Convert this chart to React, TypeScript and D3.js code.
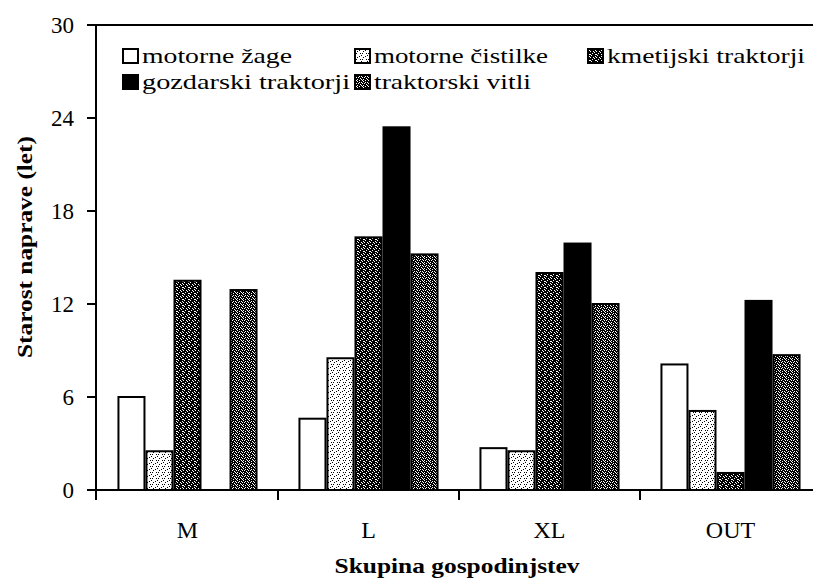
import React from "react";
import * as d3 from "d3";

const categories = ["M", "L", "XL", "OUT"];
const seriesNames = [
  "motorne žage",
  "motorne čistilke",
  "kmetijski traktorji",
  "gozdarski traktorji",
  "traktorski vitli",
];
const motorneZage = [6.0, 4.6, 2.7, 8.1];
const motorneCistilke = [2.5, 8.5, 2.5, 5.1];
const kmetijskiTraktorji = [13.5, 16.3, 14.0, 1.1];
const gozdarskiTraktorji = [null, 23.4, 15.9, 12.2];
const traktorskiVitli = [12.9, 15.2, 12.0, 8.7];
const yTicks = [0, 6, 12, 18, 24, 30];

const seriesValues: (number | null)[][] = [
  motorneZage,
  motorneCistilke,
  kmetijskiTraktorji,
  gozdarskiTraktorji,
  traktorskiVitli,
];
const fills = ["#ffffff", "url(#pLight)", "url(#pDark)", "#000000", "url(#pMid)"];

const W = 813;
const H = 588;
const left = 97;
const top = 25;
const bottom = 490;
const FONT = "Liberation Serif, Times New Roman, serif";

// deterministic texture tiles ('1' = black pixel)
const tileLight = ["100000", "000010", "001000", "000000", "010001", "000000"];
const tileDark = ["111011", "101111", "110110", "011111", "111101", "100111"];
const tileMid = ["110111", "011101", "101011", "111110", "010111", "101101"];

function Tile({ id, rows, bg }: { id: string; rows: string[]; bg: string }) {
  const n = rows[0].length;
  const cells: JSX.Element[] = [];
  rows.forEach((r, yi) =>
    r.split("").forEach((c, xi) => {
      if (c === "1") cells.push(<rect key={`${xi}-${yi}`} x={xi} y={yi} width={1} height={1} fill="#000" />);
    })
  );
  return (
    <pattern id={id} width={n} height={rows.length} patternUnits="userSpaceOnUse">
      <rect width={n} height={rows.length} fill={bg} />
      {cells}
    </pattern>
  );
}

export default function App() {
  const x0 = d3.scaleBand<string>().domain(categories).range([left, left + 181 * 4]).padding(0);
  const x1 = d3
    .scaleBand<number>()
    .domain(d3.range(seriesNames.length))
    .range([0, x0.bandwidth()])
    .paddingInner(0)
    .paddingOuter(0.73);
  const y = d3.scaleLinear().domain([0, 30]).range([bottom, top]);

  const legendLayout = [
    { x: 123, y: 49, w: 150 },
    { x: 355, y: 49, w: 174 },
    { x: 588, y: 49, w: 198 },
    { x: 123, y: 75, w: 208 },
    { x: 355, y: 75, w: 157 },
  ];
  const txt = { fontFamily: FONT, fill: "#000" } as React.CSSProperties;

  return (
    <svg width={W} height={H} style={{ position: "absolute", left: 0, top: 0, background: "#fff" }}>
      <defs>
        <Tile id="pLight" rows={tileLight} bg="#ffffff" />
        <Tile id="pDark" rows={tileDark} bg="#ffffff" />
        <Tile id="pMid" rows={tileMid} bg="#ffffff" />
      </defs>
      <rect width={W} height={H} fill="#fff" />

      {/* bars */}
      {categories.map((c, ci) => (
        <g key={c} transform={`translate(${x0(c)},0)`}>
          {seriesValues.map((vals, si) => {
            const v = vals[ci];
            if (v == null) return null;
            return (
              <rect
                key={si}
                x={x1(si)! + 1}
                y={y(v)}
                width={x1.bandwidth() - 2}
                height={bottom - y(v)}
                fill={fills[si]}
                stroke="#000"
                strokeWidth={2}
              />
            );
          })}
        </g>
      ))}

      {/* frame / axes */}
      <line x1={87} x2={W} y1={top} y2={top} stroke="#000" strokeWidth={2} />
      <line x1={left - 1} x2={left - 1} y1={top} y2={500} stroke="#000" strokeWidth={2} />
      <line x1={87} x2={W} y1={bottom} y2={bottom} stroke="#000" strokeWidth={2} />
      {yTicks.map((t) => (
        <g key={t}>
          <line x1={87} x2={left - 1} y1={y(t)} y2={y(t)} stroke="#000" strokeWidth={2} />
          <text x={74} y={y(t)} dy="0.35em" textAnchor="end" fontSize={23} style={txt}>
            {t}
          </text>
        </g>
      ))}
      {categories.map((c, ci) =>
        ci === 0 ? null : (
          <line key={c} x1={x0(c)!} x2={x0(c)!} y1={bottom} y2={500} stroke="#000" strokeWidth={2} />
        )
      )}
      {categories.map((c) => (
        <text key={c} x={x0(c)! + x0.bandwidth() / 2} y={538} textAnchor="middle" fontSize={24} style={txt}>
          {c}
        </text>
      ))}

      {/* axis titles */}
      <text
        x={457}
        y={573}
        textAnchor="middle"
        fontSize={21}
        fontWeight="bold"
        textLength={245}
        lengthAdjust="spacingAndGlyphs"
        style={txt}
      >
        Skupina gospodinjstev
      </text>
      <text
        transform={`translate(32,247) rotate(-90)`}
        textAnchor="middle"
        fontSize={22}
        fontWeight="bold"
        textLength={222}
        lengthAdjust="spacingAndGlyphs"
        style={txt}
      >
        Starost naprave (let)
      </text>

      {/* legend */}
      {seriesNames.map((s, si) => (
        <g key={s} transform={`translate(${legendLayout[si].x},${legendLayout[si].y})`}>
          <rect x={0} y={0} width={15} height={14} fill={fills[si]} stroke="#000" strokeWidth={2} />
          <text
            x={19}
            y={14}
            fontSize={22}
            textLength={legendLayout[si].w}
            lengthAdjust="spacingAndGlyphs"
            style={txt}
          >
            {s}
          </text>
        </g>
      ))}
    </svg>
  );
}
